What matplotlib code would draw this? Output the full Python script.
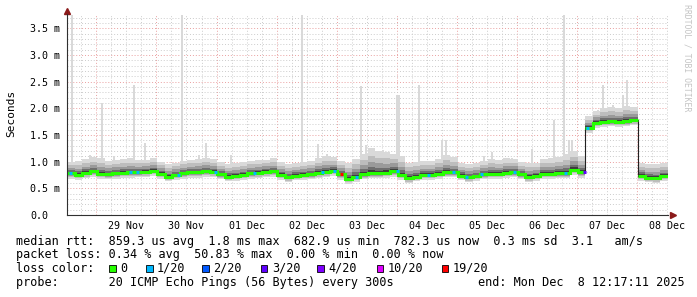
import numpy as np
import pandas as pd
import matplotlib
matplotlib.use('Agg')
import matplotlib.pyplot as plt
import matplotlib.dates as mdates
import matplotlib.transforms as mtransforms
from matplotlib.ticker import MultipleLocator, FuncFormatter, NullFormatter
from matplotlib.patches import Rectangle

plt.rcParams['font.family'] = 'DejaVu Sans Mono'

W, H = 697, 297

start = pd.Timestamp('2025-11-28 12:17:11')
end = pd.Timestamp('2025-12-08 12:17:11')

# median rtt in ms, one value every 3 hours from start
median_ms = [0.78, 0.75, 0.79, 0.82, 0.77, 0.76, 0.78, 0.79, 0.80, 0.80,
             0.81, 0.83, 0.77, 0.72, 0.75, 0.78, 0.80, 0.80, 0.82, 0.81,
             0.76, 0.72, 0.73, 0.75, 0.78, 0.79, 0.81, 0.82, 0.75, 0.71,
             0.74, 0.75, 0.76, 0.79, 0.81, 0.83, 0.76, 0.68, 0.72, 0.76,
             0.78, 0.78, 0.79, 0.82, 0.75, 0.69, 0.72, 0.75, 0.75, 0.77,
             0.80, 0.80, 0.74, 0.71, 0.73, 0.76, 0.77, 0.77, 0.79, 0.80,
             0.76, 0.71, 0.73, 0.77, 0.77, 0.78, 0.78, 0.85, 0.80, 1.64,
             1.73, 1.75, 1.76, 1.75, 1.76, 1.78, 0.74, 0.70, 0.69, 0.73,
             0.75]

# upper edge of the smoke (ms)
smoke_hi = [1.00, 1.02, 1.05, 1.08, 1.06, 1.02, 1.03, 1.05, 1.06, 1.04,
            1.04, 1.06, 1.00, 0.95, 0.98, 1.02, 1.04, 1.05, 1.07, 1.05,
            1.00, 0.96, 0.98, 1.00, 1.02, 1.03, 1.04, 1.06, 1.00, 0.96,
            0.98, 1.00, 1.02, 1.06, 1.10, 1.08, 1.02, 0.98, 1.05, 1.15,
            1.25, 1.20, 1.18, 1.15, 1.10, 0.98, 1.00, 1.02, 1.02, 1.05,
            1.12, 1.08, 0.98, 0.95, 0.97, 1.02, 1.05, 1.03, 1.06, 1.05,
            1.00, 0.97, 0.98, 1.05, 1.06, 1.08, 1.15, 1.20, 1.10, 1.85,
            1.95, 2.00, 2.02, 2.00, 2.05, 2.02, 0.98, 0.95, 0.96, 0.98,
            1.00]

# lower edge of the smoke (ms)
smoke_lo = [0.68, 0.66, 0.69, 0.72, 0.68, 0.67, 0.68, 0.70, 0.70, 0.71,
            0.71, 0.73, 0.68, 0.63, 0.66, 0.68, 0.70, 0.70, 0.72, 0.71,
            0.67, 0.63, 0.64, 0.66, 0.68, 0.69, 0.71, 0.72, 0.66, 0.62,
            0.65, 0.66, 0.67, 0.69, 0.71, 0.73, 0.66, 0.58, 0.62, 0.67,
            0.69, 0.69, 0.70, 0.72, 0.66, 0.60, 0.63, 0.66, 0.66, 0.68,
            0.71, 0.71, 0.65, 0.62, 0.64, 0.67, 0.68, 0.68, 0.70, 0.71,
            0.67, 0.62, 0.64, 0.68, 0.68, 0.69, 0.69, 0.75, 0.70, 1.54,
            1.63, 1.65, 1.66, 1.65, 1.66, 1.68, 0.64, 0.61, 0.60, 0.64,
            0.66]

# single slow pings (max rtt in ms)
spike_times = ['2025-11-28 14:10', '2025-11-28 21:30', '2025-11-29 02:10', '2025-11-29 07:05',
               '2025-11-29 15:05', '2025-11-29 19:30', '2025-11-30 10:05', '2025-11-30 17:00',
               '2025-11-30 19:50', '2025-12-01 05:50', '2025-12-02 09:59', '2025-12-02 16:40',
               '2025-12-02 20:05', '2025-12-03 02:05', '2025-12-03 09:40', '2025-12-03 11:40',
               '2025-12-03 18:30', '2025-12-04 00:10', '2025-12-04 01:00', '2025-12-04 08:50',
               '2025-12-04 18:00', '2025-12-04 19:30', '2025-12-05 10:47', '2025-12-05 13:53',
               '2025-12-05 21:53', '2025-12-06 05:53', '2025-12-06 14:47', '2025-12-06 18:47',
               '2025-12-06 20:47', '2025-12-06 22:00', '2025-12-07 00:23', '2025-12-07 08:17',
               '2025-12-07 10:17', '2025-12-07 14:17', '2025-12-07 18:17', '2025-12-07 19:53']
spike_ms = [3.75, 1.12, 2.10, 1.10,
            2.43, 1.35, 3.75, 1.12,
            1.35, 1.12, 3.75, 1.33,
            1.15, 1.00, 2.42, 1.31,
            1.22, 2.25, 2.25, 2.43,
            1.40, 1.40, 1.10, 1.19,
            1.07, 1.23, 1.79, 3.75,
            1.40, 1.40, 1.10, 1.97,
            2.43, 2.06, 2.25, 2.53]

# loss events (lost pings out of 20)
loss_times = ['2025-11-28 13:30', '2025-11-29 13:50', '2025-11-29 16:15', '2025-11-30 09:00',
              '2025-11-30 23:47', '2025-12-01 15:17', '2025-12-02 18:30', '2025-12-02 23:17',
              '2025-12-03 02:05', '2025-12-03 08:05', '2025-12-04 00:05', '2025-12-04 12:30',
              '2025-12-04 22:30', '2025-12-05 04:00', '2025-12-05 10:00', '2025-12-05 23:10',
              '2025-12-06 19:10', '2025-12-07 03:05', '2025-12-07 04:10']
loss_count = [1, 1, 1, 1,
              1, 1, 1, 1,
              19, 1, 1, 1,
              1, 1, 1, 1,
              1, 3, 1]

loss_levels = [0, 1, 2, 3, 4, 10, 19]
loss_labels = ['0', '1/20', '2/20', '3/20', '4/20', '10/20', '19/20']
loss_colors = ['#26ff00', '#00b8ff', '#0059ff', '#5e00ff', '#7e00ff', '#dd00ff', '#ff0000']
color_of = dict(zip(loss_levels, loss_colors))


def fx(x):
    return x / W


def fy(y):
    return 1 - y / H


fig = plt.figure(figsize=(W / 100, H / 100), dpi=100)
ax = fig.add_axes([fx(67), fy(215), fx(668) - fx(67), fy(14) - fy(215)])

t = mdates.date2num(pd.date_range(start, periods=len(median_ms), freq='3h').to_pydatetime())
med = np.array(median_ms)
hi = np.array(smoke_hi)
lo = np.array(smoke_lo)

# spikes (under the smoke)
st = mdates.date2num(pd.to_datetime(spike_times).to_pydatetime())
base = med[np.searchsorted(t, st, side='right') - 1]
ax.bar(st, np.array(spike_ms) - base, bottom=base, width=0.035, color='#d9d9d9',
       linewidth=0, zorder=1)

# smoke, darker towards the median
for frac, col in [(1.0, '#d9d9d9'), (0.7, '#bdbdbd'), (0.45, '#9a9a9a'),
                  (0.25, '#6e6e6e'), (0.12, '#3c3c3c')]:
    ax.fill_between(t, med - frac * (med - lo), med + frac * (hi - med), step='post',
                    color=col, linewidth=0, zorder=2)

# thin dark median line, only its big jumps stay visible
ax.step(t, med, where='post', color='#202020', linewidth=0.8, zorder=4)

# green median line, broken at big jumps
cuts = list(np.where(np.abs(np.diff(med)) > 0.3)[0] + 1)
bounds = [0] + cuts + [len(med) - 1]
for a, b in zip(bounds[:-1], bounds[1:]):
    xs = np.append(t[a:b], t[b])
    ys = np.append(med[a:b], med[b - 1])
    ax.step(xs, ys, where='post', color=color_of[0], linewidth=2.2,
            solid_capstyle='butt', solid_joinstyle='miter', zorder=5)

lt = mdates.date2num(pd.to_datetime(loss_times).to_pydatetime())
ly = med[np.searchsorted(t, lt, side='right') - 1]
ax.hlines(ly, lt - 0.025, lt + 0.025, colors=[color_of[c] for c in loss_count],
          linewidth=2.2, capstyle='butt', zorder=6)

ax.set_xlim(mdates.date2num(start.to_pydatetime()), mdates.date2num(end.to_pydatetime()))
ax.set_ylim(0, 3.77)

# grid: red at midnight / every 0.5 ms, grey every 6 h / 0.1 ms
ax.xaxis.set_major_locator(mdates.DayLocator())
ax.xaxis.set_major_formatter(NullFormatter())
ax.xaxis.set_minor_locator(mdates.HourLocator(byhour=[6, 12, 18]))
ax.xaxis.set_minor_formatter(FuncFormatter(
    lambda v, _: mdates.num2date(v).strftime('%d %b') if mdates.num2date(v).hour == 12 else ''))
ax.yaxis.set_major_locator(MultipleLocator(0.5))
ax.yaxis.set_minor_locator(MultipleLocator(0.1))
ax.yaxis.set_major_formatter(FuncFormatter(lambda v, _: '0.0' if v == 0 else '%.1f m' % v))
ax.yaxis.set_minor_formatter(NullFormatter())

ax.set_axisbelow(True)
ax.grid(which='major', color='#eaa0a0', linestyle=(0, (1, 2)), linewidth=0.7)
ax.grid(which='minor', color='#cccccc', linestyle=(0, (1, 2)), linewidth=0.7)

ax.tick_params(which='both', length=0)
ax.tick_params(axis='x', which='minor', labelsize=7.2, pad=4)
ax.tick_params(axis='y', which='major', labelsize=7.2, pad=26.6)
plt.setp(ax.yaxis.get_majorticklabels(), ha='left')

for s in ['top', 'right']:
    ax.spines[s].set_visible(False)
for s in ['left', 'bottom']:
    ax.spines[s].set_color('#303030')
    ax.spines[s].set_linewidth(0.8)
    ax.spines[s].set_zorder(7)

# axis arrows
arrow_up = mtransforms.offset_copy(ax.transAxes, fig=fig, x=0, y=3, units='dots')
arrow_right = mtransforms.offset_copy(ax.transAxes, fig=fig, x=5, y=0, units='dots')
ax.plot([0], [1], marker='^', ms=4.5, color='#8b1a1a', transform=arrow_up, clip_on=False)
ax.plot([1], [0], marker='>', ms=4.5, color='#8b1a1a', transform=arrow_right, clip_on=False)

fig.text(fx(11), fy(113), 'Seconds', rotation=90, ha='center', va='center', fontsize=8)
fig.text(fx(687), fy(4), 'RRDTOOL / TOBI OETIKER', rotation=270, ha='center', va='top',
         fontsize=5.9, color='#c4c4c4')

# legend block under the graph
fs = 8.5
fig.text(fx(16), fy(244.5), 'median rtt:  859.3 us avg  1.8 ms max  682.9 us min  782.3 us now  0.3 ms sd  3.1   am/s',
         fontsize=fs, va='baseline')
fig.text(fx(16), fy(258.2), 'packet loss: 0.34 % avg  50.83 % max  0.00 % min  0.00 % now',
         fontsize=fs, va='baseline')
fig.text(fx(16), fy(271.9), 'loss color:', fontsize=fs, va='baseline')
label_x = [120, 157, 213, 271.7, 328, 388, 453]
for lx, lab, col in zip(label_x, loss_labels, loss_colors):
    fig.patches.append(Rectangle((fx(lx - 11), fy(271.9)), 6.5 / W, 6.5 / H, transform=fig.transFigure,
                                 facecolor=col, edgecolor='black', linewidth=0.6))
    fig.text(fx(lx), fy(271.9), lab, fontsize=fs, va='baseline')
fig.text(fx(16), fy(285.6), 'probe:       20 ICMP Echo Pings (56 Bytes) every 300s',
         fontsize=fs, va='baseline')
fig.text(fx(478), fy(285.6), 'end: Mon Dec  8 12:17:11 2025', fontsize=fs, va='baseline')

fig.savefig('out.png', dpi=100, facecolor='white')
